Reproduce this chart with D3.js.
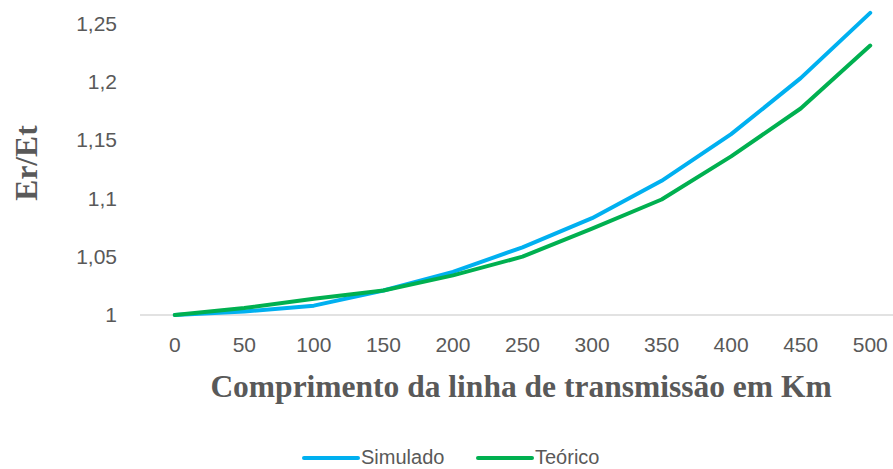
<!DOCTYPE html>
<html>
<head>
<meta charset="utf-8">
<script src="https://cdn.jsdelivr.net/npm/d3@7"></script>
<style>
  body { margin: 0; background: #fff; }
  svg { display: block; }
</style>
</head>
<body>
<svg id="plot" width="893" height="469"></svg>
<script>
let categories = [0, 50, 100, 150, 200, 250, 300, 350, 400, 450, 500];
let simulado = [1, 1.003, 1.008, 1.021, 1.037, 1.058, 1.083, 1.115, 1.155, 1.203, 1.259];
let teorico = [1, 1.006, 1.014, 1.021, 1.034, 1.050, 1.074, 1.099, 1.136, 1.177, 1.231];
let yTicks = [1, 1.05, 1.1, 1.15, 1.2, 1.25];

let seriesNames = ["Simulado", "Teórico"];
let colours = d3.scaleOrdinal()
    .domain(seriesNames)
    .range(["#00b0f0", "#00b050"]);

let svg = d3.select("#plot");

let x = d3.scaleBand()
    .domain(categories)
    .range([140, 905]);

let y = d3.scaleLinear()
    .domain([1, 1.3])
    .range([315, -35]);

let fmt = d => String(d).replace(".", ",");
let tickFont = "21px 'Liberation Sans', sans-serif";
let titleFont = "bold 31.5px 'Liberation Serif', serif";

// baseline only, no gridlines
svg.append("line")
    .attr("x1", x.range()[0])
    .attr("x2", x.range()[1])
    .attr("y1", y(1))
    .attr("y2", y(1))
    .attr("stroke", "#d9d9d9")
    .attr("stroke-width", 1.3);

let yAxis = g => g
    .attr("transform", `translate(117, 0)`)
    .call(d3.axisLeft(y).tickValues(yTicks).tickFormat(fmt).tickSize(0).tickPadding(0))
    .call(g => g.select(".domain").remove())
    .call(g => g.selectAll(".tick text")
        .attr("fill", "#595959")
        .style("font", tickFont));

let xAxis = g => g
    .attr("transform", `translate(0, ${y(1)})`)
    .call(d3.axisBottom(x).tickSize(0).tickPadding(22))
    .call(g => g.select(".domain").remove())
    .call(g => g.selectAll(".tick text")
        .attr("fill", "#595959")
        .style("font", tickFont));

svg.append("g").call(yAxis);
svg.append("g").call(xAxis);

let line = d3.line()
    .x((d, i) => x(categories[i]) + x.bandwidth() / 2)
    .y(d => y(d));

[["Simulado", simulado], ["Teórico", teorico]].forEach(([name, vals]) => {
  svg.append("path")
      .datum(vals)
      .attr("fill", "none")
      .attr("stroke", colours(name))
      .attr("stroke-width", 4)
      .attr("stroke-linejoin", "round")
      .attr("stroke-linecap", "round")
      .attr("d", line);
});

// axis titles
svg.append("text")
    .attr("x", 521)
    .attr("y", 397)
    .attr("text-anchor", "middle")
    .attr("fill", "#595959")
    .style("font", titleFont)
    .text("Comprimento da linha de transmissão em Km");

svg.append("text")
    .attr("transform", "translate(37, 163) rotate(-90)")
    .attr("text-anchor", "middle")
    .attr("fill", "#595959")
    .style("font", titleFont)
    .text("Er/Et");

// legend
let legend = svg.append("g")
    .style("font", "20px 'Liberation Sans', sans-serif");

let legendX = [304, 478];
seriesNames.forEach((name, i) => {
  let g = legend.append("g").attr("transform", `translate(${legendX[i]}, 458)`);
  g.append("line")
      .attr("x1", 0).attr("x2", 54)
      .attr("stroke", colours(name))
      .attr("stroke-width", 4)
      .attr("stroke-linecap", "round");
  g.append("text")
      .attr("x", 57)
      .attr("dy", "0.3em")
      .attr("fill", "#595959")
      .text(name);
});
</script>
</body>
</html>
